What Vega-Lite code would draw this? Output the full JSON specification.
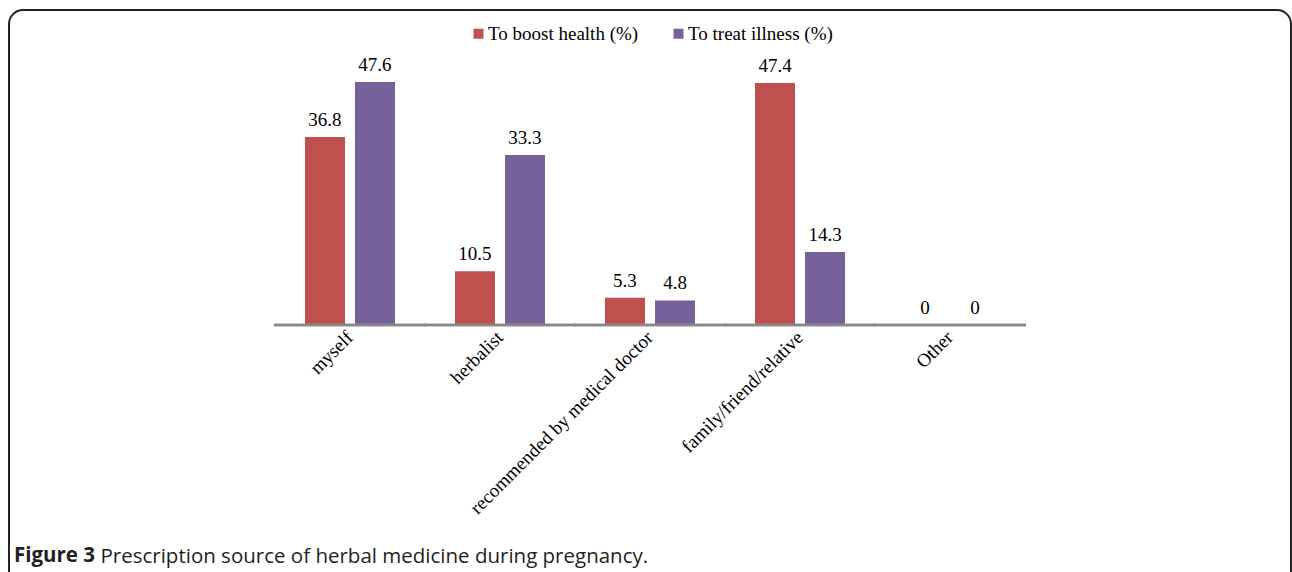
{
  "$schema": "https://vega.github.io/schema/vega-lite/v6.json",
  "width": 1292,
  "height": 572,
  "autosize": {"type": "fit", "contains": "padding"},
  "padding": {"left": 9, "top": 10, "right": 1, "bottom": -16},
  "background": "white",
  "config": {
    "view": {"stroke": "#222222", "strokeWidth": 2, "cornerRadius": 14},
    "font": "Liberation Serif"
  },
  "title": {
    "text": "Figure 3",
    "orient": "bottom",
    "anchor": "start",
    "offset": -26,
    "dx": 5,
    "baseline": "alphabetic",
    "font": "Open Sans",
    "fontSize": 20.5,
    "fontWeight": "bold",
    "color": "#231f20"
  },
  "data": {
    "values": [
      {"source": "myself", "purpose": "To boost health (%)", "pct": 36.8},
      {"source": "myself", "purpose": "To treat illness (%)", "pct": 47.6},
      {"source": "herbalist", "purpose": "To boost health (%)", "pct": 10.5},
      {"source": "herbalist", "purpose": "To treat illness (%)", "pct": 33.3},
      {"source": "recommended by medical doctor", "purpose": "To boost health (%)", "pct": 5.3},
      {"source": "recommended by medical doctor", "purpose": "To treat illness (%)", "pct": 4.8},
      {"source": "family/friend/relative", "purpose": "To boost health (%)", "pct": 47.4},
      {"source": "family/friend/relative", "purpose": "To treat illness (%)", "pct": 14.3},
      {"source": "Other", "purpose": "To boost health (%)", "pct": 0},
      {"source": "Other", "purpose": "To treat illness (%)", "pct": 0}
    ]
  },
  "encoding": {
    "x": {
      "field": "source",
      "type": "nominal",
      "sort": null,
      "scale": {
        "domain": [" ", "myself", "herbalist", "recommended by medical doctor", "family/friend/relative", "Other", "  "],
        "paddingInner": 0.4,
        "paddingOuter": 0.973
      },
      "axis": {
        "orient": "bottom",
        "offset": -263,
        "domain": false,
        "ticks": false,
        "labelAngle": -45,
        "labelAlign": "right",
        "labelBaseline": "middle",
        "labelPadding": 9,
        "labelFont": "Liberation Serif",
        "labelFontSize": 19,
        "labelColor": "#000000",
        "labelLimit": 500,
        "title": "Prescription source of herbal medicine during pregnancy.",
        "titleX": 91,
        "titleY": 237,
        "titleAlign": "left",
        "titleBaseline": "alphabetic",
        "titleAngle": 0,
        "titleFont": "Open Sans",
        "titleFontSize": 20.5,
        "titleFontWeight": "normal",
        "titleColor": "#231f20"
      }
    }
  },
  "layer": [
    {
      "mark": {"type": "bar"},
      "encoding": {
        "xOffset": {"field": "purpose", "type": "nominal", "scale": {"paddingInner": 0.2, "paddingOuter": 0}},
        "y": {"field": "pct", "type": "quantitative", "scale": {"domain": [-51.55, 61.7], "nice": false, "zero": false}, "axis": null},
        "color": {
          "field": "purpose",
          "type": "nominal",
          "scale": {"domain": ["To boost health (%)", "To treat illness (%)"], "range": ["#C0504D", "#77619B"]},
          "legend": {
            "title": null,
            "orient": "none",
            "direction": "horizontal",
            "legendX": 460,
            "legendY": 14,
            "symbolType": "square",
            "symbolSize": 100,
            "symbolStrokeWidth": 0,
            "labelFont": "Liberation Serif",
            "labelFontSize": 19,
            "labelColor": "#000000",
            "labelOffset": 0,
            "columnPadding": 30,
            "labelLimit": 300
          }
        }
      }
    },
    {
      "mark": {"type": "text", "baseline": "bottom", "dy": -7, "font": "Liberation Serif", "fontSize": 19, "color": "#000000"},
      "encoding": {
        "xOffset": {"field": "purpose", "type": "nominal"},
        "y": {"field": "pct", "type": "quantitative"},
        "text": {"field": "pct", "type": "quantitative"}
      }
    },
    {
      "mark": {"type": "tick", "orient": "horizontal", "size": 152, "thickness": 2.5, "color": "#888888", "opacity": 1},
      "encoding": {
        "y": {"datum": 0, "type": "quantitative"}
      }
    }
  ]
}
